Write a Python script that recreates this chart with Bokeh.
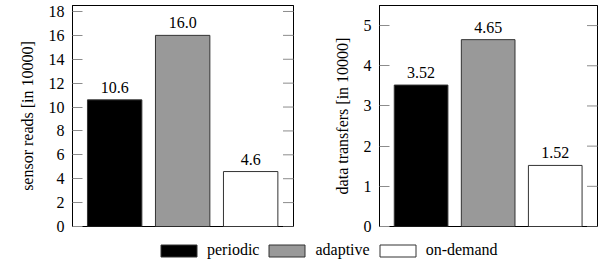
from bokeh.plotting import figure
from bokeh.layouts import row, column
from bokeh.models import (Range1d, FixedTicker, ColumnDataSource, Legend, LegendItem,
                          LabelSet, LinearAxis)
from bokeh.embed import file_html
from bokeh.resources import INLINE

# ---- data ----
categories = ["periodic", "adaptive", "on-demand"]
sensor_reads = [10.6, 16.0, 4.6]          # in 10000
data_transfers = [3.52, 4.65, 1.52]       # in 10000
sensor_ticks = [0, 2, 4, 6, 8, 10, 12, 14, 16, 18]
transfer_ticks = [0, 1, 2, 3, 4, 5]
bar_colors = ["#000000", "#999999", "#ffffff"]

FONT = "Liberation Serif"
FS = "16px"
TICK_COLOR = "#8c8c8c"


def make_panel(vals, labels, ticks, ylabel, ymax, width, border_left, border_right):
    xpos = list(range(len(categories)))
    x0, x1 = -0.62, len(categories) - 1 + 0.63
    p = figure(x_range=Range1d(x0, x1), y_range=Range1d(0, ymax),
               width=width, height=236,
               min_border_left=border_left, min_border_right=border_right,
               min_border_top=5, min_border_bottom=10,
               output_backend="svg", toolbar_location=None, tools="")
    src = ColumnDataSource(dict(x=xpos, top=vals, color=bar_colors, label=labels))
    p.vbar(x="x", top="top", width=0.8, bottom=0, fill_color="color",
           line_color="#333333", line_width=1, source=src)
    p.add_layout(LabelSet(x="x", y="top", text="label", source=src, text_align="center",
                          text_baseline="alphabetic", y_offset=7,
                          text_font=FONT, text_font_size=FS, text_color="black"))
    # mirrored inward ticks on the right edge
    p.scatter(x=[x1] * len(ticks), y=ticks, marker="dash", size=21,
              line_color=TICK_COLOR, line_width=1)
    p.xaxis.visible = False
    p.xgrid.visible = False
    p.ygrid.visible = False
    p.outline_line_color = "black"
    p.outline_line_width = 1
    p.outline_line_alpha = 1

    ya = p.yaxis[0]
    ya.ticker = FixedTicker(ticks=ticks)
    ya.axis_line_color = "black"
    ya.major_tick_in = 10
    ya.major_tick_out = 0
    ya.major_tick_line_color = TICK_COLOR
    ya.minor_tick_line_color = None
    ya.major_label_standoff = 8
    ya.major_label_text_font = FONT
    ya.major_label_text_font_size = FS
    ya.major_label_text_color = "black"
    ya.axis_label = ylabel
    ya.axis_label_text_font = FONT
    ya.axis_label_text_font_size = FS
    ya.axis_label_text_font_style = "normal"
    ya.axis_label_text_color = "black"
    ya.axis_label_standoff = 10

    # top frame line
    ta = LinearAxis(ticker=FixedTicker(ticks=[]))
    ta.axis_line_color = "black"
    ta.major_tick_out = 0
    ta.major_tick_in = 0
    ta.minor_tick_line_color = None
    ta.major_label_standoff = 0
    p.add_layout(ta, "above")
    return p


p1 = make_panel(sensor_reads, [f"{v:.1f}" for v in sensor_reads], sensor_ticks,
                "sensor reads [in 10000]", 18.5, 300, 72, 7)
p2 = make_panel(data_transfers, [f"{v:.2f}" for v in data_transfers], transfer_ticks,
                "data transfers [in 10000]", 5.5, 305, 79, 8)

# ---- legend panel ----
pl = figure(width=605, height=28, x_range=Range1d(0, 1), y_range=Range1d(0, 1),
            min_border=0, output_backend="svg", toolbar_location=None, tools="")
pl.axis.visible = False
pl.grid.visible = False
pl.outline_line_color = None
items = []
for cat, col in zip(categories, bar_colors):
    r = pl.vbar(x=[0.5], top=[0], bottom=[0], width=0, fill_color=col, line_color="#333333")
    items.append(LegendItem(label=cat, renderers=[r]))
leg = Legend(items=items, orientation="horizontal", location=(156, 5),
             glyph_width=45, glyph_height=15, label_height=15, label_standoff=6,
             spacing=5, padding=0, margin=0,
             label_text_font=FONT, label_text_font_size=FS, label_text_color="black",
             border_line_color=None, background_fill_alpha=0)
pl.add_layout(leg)

layout = column(row(p1, p2), pl)

open("out.html", "w").write(file_html(layout, INLINE))
